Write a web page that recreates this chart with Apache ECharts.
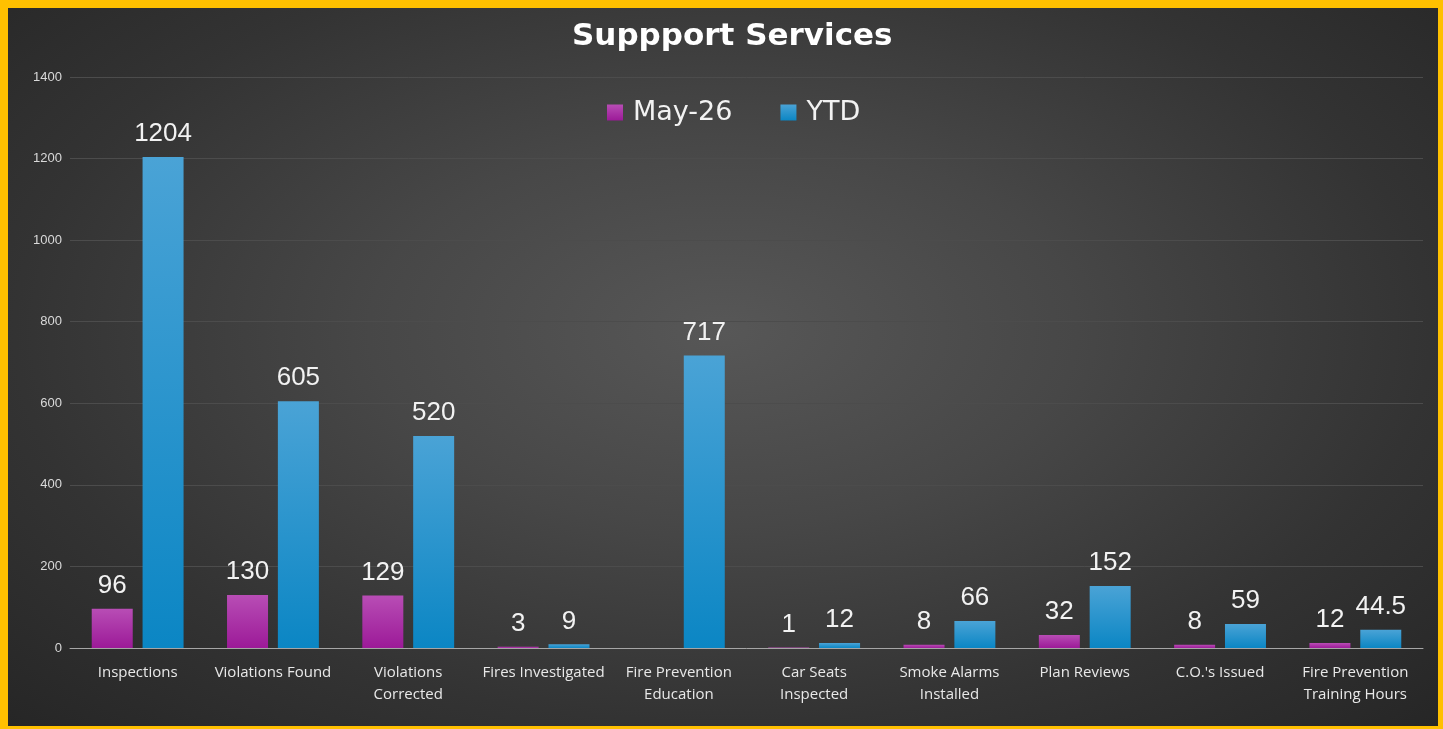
<!DOCTYPE html>
<html><head><meta charset="utf-8">
<script src="https://cdn.jsdelivr.net/npm/echarts@6/dist/echarts.min.js"></script>
<style>
html,body{margin:0;padding:0;background:#FFC000;width:1443px;height:729px;overflow:hidden;}
#c{position:absolute;left:8px;top:8px;width:1430px;height:718px;
background:radial-gradient(ellipse at 50% 45%, #575757 0%, #474747 35%, #333333 70%, #262626 100%);}
</style></head><body>
<div id="c"></div>
<script>
const categories = ['Inspections','Violations Found','Violations\nCorrected','Fires Investigated','Fire Prevention\nEducation','Car Seats\nInspected','Smoke Alarms\nInstalled','Plan Reviews',"C.O.'s Issued",'Fire Prevention\nTraining Hours'];
const may26 = [96,130,129,3,null,1,8,32,8,12];
const ytd = [1204,605,520,9,717,12,66,152,59,44.5];
const yTicks = [0,200,400,600,800,1000,1200,1400];

const chart = echarts.init(document.getElementById('c'), null, {renderer:'canvas'});
const labelStyle = {show:true, position:'top', color:'#f2f2f2', fontFamily:'Liberation Sans, Arial', fontSize:26, distance:10};
chart.setOption({
  backgroundColor:'transparent',
  animation:false,
  title:{text:'Suppport Services', left:559, top:8,
    textStyle:{color:'#ffffff', fontFamily:'DejaVu Sans', fontWeight:'bold', fontSize:31}},
  legend:{top:86, left:594, itemWidth:16, itemHeight:16, itemGap:48, icon:'rect',
    textStyle:{color:'#f2f2f2', fontFamily:'DejaVu Sans', fontSize:27, padding:[0,0,0,5]},
    data:['May-26','YTD']},
  grid:{left:62, right:15, top:69, bottom:78},
  xAxis:{type:'category', data:categories,
    axisLine:{lineStyle:{color:'#a6a6a6', width:1}},
    axisTick:{show:false},
    axisLabel:{color:'#e8e8e8', fontFamily:'Open Sans', fontSize:15, margin:14, lineHeight:22, interval:0}},
  yAxis:{type:'value', min:yTicks[0], max:yTicks[yTicks.length-1], interval:200,
    axisLine:{show:false}, axisTick:{show:false},
    axisLabel:{color:'#d9d9d9', fontFamily:'Liberation Sans', fontSize:13, margin:8, formatter:function(v){return String(v);}},
    splitLine:{lineStyle:{color:'#4c4c4c', width:1}}},
  series:[
    {name:'May-26', type:'bar', data:may26, barWidth:41, barGap:'24%',
     itemStyle:{color:new echarts.graphic.LinearGradient(0,0,0,1,[{offset:0,color:'#b84db5'},{offset:1,color:'#9c1a98'}])},
     label:labelStyle},
    {name:'YTD', type:'bar', data:ytd, barWidth:41,
     itemStyle:{color:new echarts.graphic.LinearGradient(0,0,0,1,[{offset:0,color:'#4aa3d6'},{offset:1,color:'#0b86c4'}])},
     label:labelStyle}
  ]
});
</script>
</body></html>
